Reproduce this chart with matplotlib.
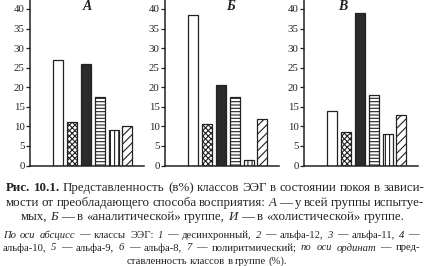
import numpy as np
import matplotlib
matplotlib.use("Agg")
import matplotlib.pyplot as plt

plt.rcParams['font.family'] = ['Liberation Serif', 'DejaVu Serif']
plt.rcParams['hatch.linewidth'] = 0.8

# данные (% представленности классов ЭЭГ)
classes = [1, 2, 3, 4, 5, 6]
vals_a = [27, 11, 26, 17.5, 9, 10]
vals_b = [38.5, 10.5, 20.5, 17.5, 1.5, 12]
vals_v = [14, 8.5, 39, 18, 8, 13]
panel_names = ['А', 'Б', 'В']
yticks = [0, 5, 10, 15, 20, 25, 30, 35, 40]

# стиль каждого класса: заливка, штриховка
styles = [('white', None), ('white', 'xxxxxx'), ('#2b2b2b', None),
          ('white', '-----'), ('white', '||||'), ('white', '////')]

W, H = 428, 266
fig = plt.figure(figsize=(W / 100, H / 100), dpi=100)
ink = '#222222'

panels = [(30, vals_a), (165, vals_b), (304, vals_v)]
for (x0, vals) in panels:
    ax = fig.add_axes([x0 / W, 1 - 165.5 / H, 114 / W, 165.5 / H])
    for c, v, (fc, h) in zip(classes, vals, styles):
        ax.bar(c, v, width=0.72, facecolor=fc, edgecolor=ink, hatch=h, linewidth=0.9)
    ax.set_xlim(-1.05, 7.2)
    ax.set_ylim(0, 42.3)
    ax.set_yticks(yticks)
    ax.set_xticks([])
    ax.spines['top'].set_visible(False)
    ax.spines['right'].set_visible(False)
    for s in ('left', 'bottom'):
        ax.spines[s].set_linewidth(1.1)
        ax.spines[s].set_color(ink)
    ax.tick_params(axis='y', length=3, width=0.9, pad=0.8, labelsize=7.8, colors=ink)
    ax.patch.set_visible(False)

for name, px in zip(panel_names, [87, 231, 343]):
    fig.text(px / W, 1 - 6 / H, name, ha='center', va='center', fontsize=10,
             fontweight='bold', fontstyle='italic', color=ink)

# подпись к рисунку
fig.canvas.draw()
renderer = fig.canvas.get_renderer()

def draw_line(y, segs, x0, x1, size, mode='justify'):
    words = []
    for text, st in segs:
        for p in text.split(' '):
            if p:
                words.append((p, st))
    objs = []
    for p, st in words:
        t = fig.text(0, 1 - y / H, p, fontsize=size, va='center', ha='left', color=ink,
                     fontweight='bold' if 'b' in st else 'normal',
                     fontstyle='italic' if 'i' in st else 'normal')
        objs.append(t)
    widths = [t.get_window_extent(renderer).width for t in objs]
    sp = fig.text(0, 0, 'a a', fontsize=size)
    sp2 = fig.text(0, 0, 'aa', fontsize=size)
    space = sp.get_window_extent(renderer).width - sp2.get_window_extent(renderer).width
    sp.remove(); sp2.remove()
    n = len(objs)
    if mode == 'justify' and n > 1:
        gap = (x1 - x0 - sum(widths)) / (n - 1)
        x = x0
    else:
        gap = space
        total = sum(widths) + gap * (n - 1)
        x = (x0 + x1) / 2 - total / 2
    for t, w in zip(objs, widths):
        t.set_x(x / W)
        x += w + gap

fs1, fs2 = 9.3, 7.7
draw_line(188, [('Рис. 10.1.', 'b'), (' Представленность (в%) классов ЭЭГ в состоянии покоя в зависи-', '')], 6, 424, fs1)
draw_line(203, [('мости от преобладающего способа восприятия: ', ''), ('А', 'i'),
                (' — у всей группы испытуе-', '')], 6, 424, fs1)
draw_line(217, [('мых, ', ''), ('Б', 'i'), (' — в «аналитической» группе, ', ''), ('И', 'i'),
                (' — в «холистической» группе.', '')], 30, 395, fs1, mode='center')
draw_line(235, [('По оси абсцисс', 'i'), (' — классы ЭЭГ: ', ''), ('1', 'i'), (' — десинхронный, ', ''),
                ('2', 'i'), (' — альфа-12, ', ''), ('3', 'i'), (' — альфа-11, ', ''), ('4', 'i'), (' —', '')],
          3, 419, fs2)
draw_line(248, [('альфа-10, ', ''), ('5', 'i'), (' — альфа-9, ', ''), ('6', 'i'), (' — альфа-8, ', ''),
                ('7', 'i'), (' — полиритмический; ', ''), ('по оси ординат', 'i'), (' — пред-', '')],
          3, 420, fs2)
draw_line(261, [('ставленность классов в группе (%).', '')], 130, 284, fs2, mode='center')

fig.savefig('out.png', dpi=100)
